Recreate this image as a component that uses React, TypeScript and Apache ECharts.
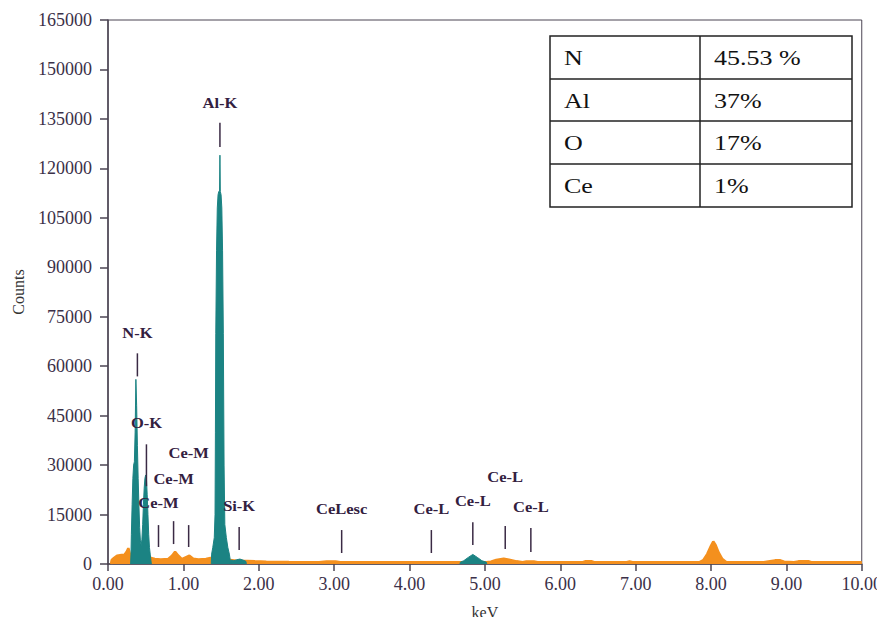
import React, { useEffect, useRef } from "react";
import * as echarts from "echarts";

// ---------- data ----------
const yTicks = { min: 0, max: 165000, interval: 15000 };
const xTicks = { min: 0, max: 10, interval: 1 };

// background (orange) spectrum: [keV, counts]
const backgroundSpectrum: [number, number][] = [
  [0.04, 0], [0.05, 1200], [0.08, 1800], [0.12, 2500], [0.18, 2700], [0.22, 2800],
  [0.25, 3800], [0.27, 4800], [0.29, 3000], [0.31, 2000], [0.45, 1800], [0.58, 1800],
  [0.62, 1500], [0.7, 1400], [0.8, 1500], [0.85, 2500], [0.89, 3700], [0.93, 2600],
  [0.98, 1500], [1.03, 2000], [1.08, 2500], [1.13, 1600], [1.2, 1400], [1.3, 1500],
  [1.36, 1800], [1.5, 1500], [1.62, 1200], [1.7, 1000], [1.85, 900], [1.95, 800],
  [2.1, 700], [2.4, 600], [2.8, 550], [2.9, 750], [3.02, 750], [3.08, 550], [3.5, 550],
  [4.0, 550], [4.5, 550], [4.65, 550], [5.02, 550], [5.08, 700], [5.15, 1200],
  [5.25, 1600], [5.32, 1300], [5.42, 800], [5.5, 550], [5.55, 750], [5.65, 750],
  [5.7, 550], [6.3, 550], [6.33, 800], [6.42, 800], [6.45, 550], [6.88, 550],
  [6.92, 750], [6.96, 550], [7.85, 550], [7.9, 1200], [7.95, 3000], [8.0, 5500],
  [8.03, 6800], [8.06, 5800], [8.1, 3500], [8.15, 1500], [8.2, 600], [8.7, 550],
  [8.76, 800], [8.85, 1100], [8.92, 1100], [8.97, 700], [9.1, 550], [9.16, 800],
  [9.3, 800], [9.33, 550], [10.0, 550],
];

// identified peaks (teal)
const peakNO: [number, number][] = [
  [0.30, 0], [0.305, 3000], [0.31, 9000], [0.32, 18000], [0.33, 26000],
  [0.34, 30000], [0.35, 31000], [0.36, 40000], [0.37, 56000], [0.38, 48000],
  [0.39, 36000], [0.40, 26000], [0.41, 18000], [0.42, 11000], [0.43, 7000],
  [0.44, 5500], [0.45, 7500], [0.46, 12000], [0.47, 18000], [0.48, 23000],
  [0.49, 26000], [0.50, 27000], [0.51, 26000], [0.52, 21000], [0.53, 15000],
  [0.54, 9000], [0.55, 5000], [0.56, 3000], [0.57, 1000], [0.575, 0],
];
const peakAl: [number, number][] = [
  [1.37, 0], [1.375, 3000], [1.39, 5000], [1.41, 8000], [1.42, 15000], [1.425, 40000],
  [1.43, 70000], [1.44, 95000], [1.45, 108000], [1.46, 112000], [1.47, 113000],
  [1.48, 113000], [1.485, 124000], [1.49, 113000], [1.50, 112000], [1.51, 108000],
  [1.52, 95000], [1.53, 70000], [1.54, 30000], [1.55, 12000], [1.57, 8000],
  [1.59, 5000], [1.61, 3000], [1.62, 1500], [1.625, 0],
];
const peakSi: [number, number][] = [
  [1.625, 0], [1.63, 1200], [1.67, 1000], [1.71, 1300], [1.75, 1500], [1.8, 1100],
  [1.83, 800], [1.835, 0],
];
const peakCeL: [number, number][] = [
  [4.67, 0], [4.675, 550], [4.72, 1000], [4.78, 2000], [4.84, 2900], [4.9, 2000],
  [4.96, 1000], [5.02, 550], [5.025, 0],
];

// line markers
const markerLabels = ["N-K", "O-K", "Ce-M", "Ce-M", "Ce-M", "Al-K", "Si-K", "CeLesc", "Ce-L", "Ce-L", "Ce-L", "Ce-L"];
const markerKeV = [0.39, 0.51, 0.67, 0.87, 1.07, 1.485, 1.74, 3.10, 4.29, 4.84, 5.27, 5.61];
const markerLow = [56900, 23600, 5150, 6050, 5150, 126500, 4240, 3330, 3330, 5750, 4540, 3630];
const markerHigh = [63900, 36300, 11800, 13000, 11800, 133800, 11200, 10300, 10300, 12700, 11500, 10900];
const markerLabelCounts = [70200, 42700, 18500, 26000, 33600, 139900, 17560, 16650, 16650, 19100, 26600, 17260];

// composition table
const tableElements = ["N", "Al", "O", "Ce"];
const tablePercents = ["45.53 %", "37%", "17%", "1%"];

// ---------- styles ----------
const ORANGE = "#f4901e";
const TEAL = "#1b8383";
const AXIS = "#4b4453";
const TXT = "#3b3048";
const LBL = "#33203f";
const SERIF = '"Liberation Serif", serif';

export default function App() {
  const ref = useRef<HTMLDivElement>(null);

  useEffect(() => {
    if (!ref.current) return;
    const chart = echarts.init(ref.current, null, { renderer: "svg" });

    const tealSeries = [peakNO, peakAl, peakSi, peakCeL].map((d) => ({
      type: "line",
      data: d,
      showSymbol: false,
      symbol: "none",
      lineStyle: { color: TEAL, width: 1 },
      itemStyle: { color: TEAL },
      areaStyle: { color: TEAL, opacity: 1 },
      z: 3,
    }));

    // table graphic
    const tx = 550, ty = 36, tw = 302, colX = 700;
    const rowH = [43, 42, 43, 43];
    const tableChildren: any[] = [];
    let yy = ty;
    const rowTops: number[] = [];
    rowH.forEach((h) => { rowTops.push(yy); yy += h; });
    const th = yy - ty;
    tableChildren.push({
      type: "rect",
      shape: { x: tx, y: ty, width: tw, height: th },
      style: { fill: "#fff", stroke: "#222", lineWidth: 1.5 },
    });
    rowTops.slice(1).forEach((r) => {
      tableChildren.push({
        type: "line",
        shape: { x1: tx, y1: r, x2: tx + tw, y2: r },
        style: { stroke: "#222", lineWidth: 1.5 },
      });
    });
    tableChildren.push({
      type: "line",
      shape: { x1: colX, y1: ty, x2: colX, y2: ty + th },
      style: { stroke: "#222", lineWidth: 1.5 },
    });
    tableElements.forEach((el, i) => {
      const cy = rowTops[i] + rowH[i] / 2 + 1;
      tableChildren.push({
        type: "text", x: 564, y: cy, scaleX: 1.3,
        style: { text: el, font: `20px ${SERIF}`, fill: "#111", textAlign: "left", textVerticalAlign: "middle" },
      });
      tableChildren.push({
        type: "text", x: 714, y: cy, scaleX: 1.3,
        style: { text: tablePercents[i], font: `20px ${SERIF}`, fill: "#111", textAlign: "left", textVerticalAlign: "middle" },
      });
    });

    const option: any = {
      animation: false,
      backgroundColor: "#fff",
      grid: {
        left: 108, right: 23, top: 20, bottom: 57,
        show: true, borderColor: AXIS, borderWidth: 1, backgroundColor: "transparent",
      },
      xAxis: {
        type: "value",
        min: xTicks.min, max: xTicks.max, interval: xTicks.interval,
        name: "keV", nameLocation: "middle", nameGap: 40,
        nameTextStyle: { fontFamily: SERIF, fontSize: 16, color: "#333" },
        axisLine: { show: true, onZero: false, lineStyle: { color: AXIS, width: 1.5 } },
        axisTick: { show: true, inside: false, length: 7, lineStyle: { color: AXIS, width: 1.5 } },
        axisLabel: {
          formatter: (v: number) => v.toFixed(2),
          fontFamily: SERIF, fontSize: 18, color: TXT, margin: 11,
        },
        splitLine: { show: false },
      },
      yAxis: {
        type: "value",
        min: yTicks.min, max: yTicks.max, interval: yTicks.interval,
        name: "Counts", nameLocation: "middle", nameGap: 82,
        nameTextStyle: { fontFamily: SERIF, fontSize: 16, color: "#333" },
        axisLine: { show: true, lineStyle: { color: AXIS, width: 1.5 } },
        axisTick: { show: true, inside: false, length: 8, lineStyle: { color: AXIS, width: 1.5 } },
        axisLabel: {
          formatter: (v: number) => String(v),
          fontFamily: SERIF, fontSize: 18, color: TXT, margin: 16,
        },
        splitLine: { show: false },
      },
      series: [
        {
          type: "line",
          data: backgroundSpectrum,
          showSymbol: false,
          symbol: "none",
          lineStyle: { color: ORANGE, width: 2.5 },
          itemStyle: { color: ORANGE },
          areaStyle: { color: ORANGE, opacity: 1 },
          z: 2,
        },
        ...tealSeries,
        {
          type: "custom",
          z: 5,
          encode: { x: 0, y: 1 },
          data: markerKeV.map((k, i) => [k, markerLow[i], markerHigh[i], markerLabelCounts[i]]),
          renderItem: (params: any, api: any) => {
            const k = api.value(0);
            const p1 = api.coord([k, api.value(1)]);
            const p2 = api.coord([k, api.value(2)]);
            const pl = api.coord([k, api.value(3)]);
            return {
              type: "group",
              children: [
                {
                  type: "line",
                  shape: { x1: p1[0], y1: p1[1], x2: p2[0], y2: p2[1] },
                  style: { stroke: "#3a2a44", lineWidth: 1.5 },
                },
                {
                  type: "text",
                  x: pl[0], y: pl[1], scaleX: 1.1,
                  style: {
                    text: markerLabels[params.dataIndex],
                    font: `bold 15px ${SERIF}`,
                    fill: LBL,
                    textAlign: "center",
                    textVerticalAlign: "middle",
                  },
                },
              ],
            };
          },
        },
      ],
      graphic: [{ type: "group", children: tableChildren, z: 10 }],
    };

    chart.setOption(option);
    return () => chart.dispose();
  }, []);

  return <div ref={ref} style={{ width: 885, height: 625, margin: -8 }} />;
}
